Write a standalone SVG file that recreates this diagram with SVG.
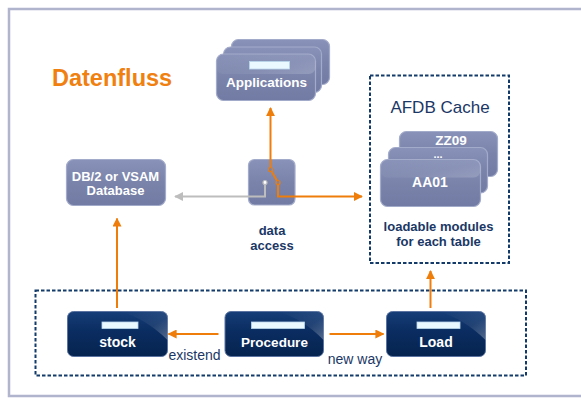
<svg xmlns="http://www.w3.org/2000/svg" width="581" height="398" viewBox="0 0 581 398">
<defs>
<linearGradient id="gCard" x1="0" y1="0" x2="0" y2="1">
<stop offset="0" stop-color="#8992b8"/>
<stop offset="0.5" stop-color="#7a84ab"/>
<stop offset="1" stop-color="#717ba3"/>
</linearGradient>
<linearGradient id="gDark" x1="0" y1="0" x2="0" y2="1">
<stop offset="0" stop-color="#163e78"/>
<stop offset="0.45" stop-color="#0a2c60"/>
<stop offset="1" stop-color="#06244f"/>
</linearGradient>
<linearGradient id="gGloss" x1="0" y1="0" x2="1" y2="1">
<stop offset="0" stop-color="#ffffff" stop-opacity="0"/>
<stop offset="0.6" stop-color="#ffffff" stop-opacity="0.08"/>
<stop offset="1" stop-color="#ffffff" stop-opacity="0.3"/>
</linearGradient>
<marker id="aO" viewBox="0 0 10 10" refX="9" refY="5" markerWidth="9" markerHeight="9" markerUnits="userSpaceOnUse" orient="auto">
<path d="M0,0 L10,5 L0,10 z" fill="#ee7d0a"/>
</marker>
<marker id="aG" viewBox="0 0 10 10" refX="9" refY="5" markerWidth="9" markerHeight="9" markerUnits="userSpaceOnUse" orient="auto">
<path d="M0,0 L10,5 L0,10 z" fill="#bdbdbd"/>
</marker>
</defs>
<style>
.card{fill:url(#gCard);stroke:#a3abca;stroke-width:1.2}
.dark{fill:url(#gDark);stroke:#5a73a0;stroke-width:1}
.gloss{fill:url(#gGloss)}
.bar{fill:#e9f9ff;stroke:#b9d6ea;stroke-width:0.8}
.wt{font-family:"Liberation Sans",Arial,sans-serif;font-weight:bold;fill:#ffffff;text-anchor:middle}
.nt{font-family:"Liberation Sans",Arial,sans-serif;fill:#1b3766;text-anchor:middle}
.dash{fill:none;stroke:#123a6a;stroke-width:2;stroke-dasharray:3.5 2}
.or{fill:none;stroke:#ee7d0a;stroke-width:2}
.gr{fill:none;stroke:#bdbdbd;stroke-width:2}
</style>
<rect width="581" height="398" fill="#ffffff"/>
<path d="M585,9 H9 V396 H585" fill="none" stroke="#b0b5cd" stroke-width="2.5"/>
<text x="52" y="86" font-family="'Liberation Sans',Arial,sans-serif" font-weight="bold" font-size="23.5" fill="#f08010">Datenfluss</text>

<g id="applications">
<rect class="card" x="231.5" y="39.5" width="98" height="45" rx="7"/>
<rect class="card" x="223.5" y="47" width="98" height="45.5" rx="7"/>
<rect class="card" x="216.5" y="54" width="99" height="46.5" rx="7"/>
<rect class="gloss" x="216.5" y="54" width="99" height="20" rx="7" opacity="0.6"/>
<rect class="bar" x="249.5" y="61.5" width="40" height="7.5"/>
<text class="wt" x="266.5" y="87" font-size="13.5">Applications</text>
</g>

<g id="database">
<rect class="card" x="66.5" y="159.5" width="99" height="46" rx="7"/>
<text class="wt" x="115.5" y="180.5" font-size="13">DB/2 or VSAM</text>
<text class="wt" x="115.5" y="195" font-size="13">Database</text>
</g>

<g id="data-access">
<rect class="card" x="248.5" y="159.5" width="46.5" height="45.5" rx="6"/>
<text class="nt" x="272" y="235" font-size="13" font-weight="bold">data</text>
<text class="nt" x="272" y="249.5" font-size="13" font-weight="bold">access</text>
</g>

<g id="afdb-cache">
<rect class="dash" x="370" y="75.5" width="139" height="187.5"/>
<text class="nt" x="440" y="112.5" font-size="17">AFDB Cache</text>
<rect class="card" x="399.5" y="131.5" width="98" height="45" rx="7"/>
<rect class="card" x="388.5" y="147.5" width="99" height="45.5" rx="7"/>
<rect class="card" x="380.5" y="159.5" width="100" height="47" rx="7"/>
<rect class="gloss" x="380.5" y="159.5" width="100" height="18" rx="7" opacity="0.6"/>
<text class="wt" x="451" y="144.5" font-size="13.5">ZZ09</text>
<text class="wt" x="438" y="158" font-size="11">...</text>
<text class="wt" x="430" y="187" font-size="14">AA01</text>
<text class="nt" x="438.5" y="231" font-size="13" font-weight="bold">loadable modules</text>
<text class="nt" x="438.5" y="245.5" font-size="13" font-weight="bold">for each table</text>
</g>

<g id="batch-frame">
<rect class="dash" x="35.5" y="290.5" width="490.5" height="85"/>
</g>

<g id="stock">
<rect class="dark" x="67.5" y="311.5" width="100" height="45" rx="6"/>
<path class="gloss" d="M120,311.5 H161.5 a6,6 0 0 1 6,6 V340 Q145,318 120,311.5 z"/>
<rect class="bar" x="102" y="322" width="36" height="6.5"/>
<text class="wt" x="117.5" y="346.5" font-size="14">stock</text>
</g>

<g id="procedure">
<rect class="dark" x="225" y="311.5" width="98.5" height="45" rx="6"/>
<path class="gloss" d="M277,311.5 H317.5 a6,6 0 0 1 6,6 V340 Q302,318 277,311.5 z"/>
<rect class="bar" x="251.5" y="322" width="53" height="6.5"/>
<text class="wt" x="274.5" y="346.5" font-size="13.5">Procedure</text>
</g>

<g id="load">
<rect class="dark" x="386.5" y="311.5" width="99" height="45" rx="6"/>
<path class="gloss" d="M438,311.5 H479.5 a6,6 0 0 1 6,6 V340 Q463,318 438,311.5 z"/>
<rect class="bar" x="417" y="322" width="43" height="6.5"/>
<text class="wt" x="436" y="346.5" font-size="14">Load</text>
</g>

<g id="connectors">
<path class="gr" d="M265,182.5 V196.5 H175" marker-end="url(#aG)"/>
<circle cx="265" cy="182.5" r="2" fill="#ffffff" stroke="#bdbdbd" stroke-width="1.2"/>
<path class="or" d="M270.5,169.5 V108" marker-end="url(#aO)"/>
<path class="or" d="M270.5,169.5 L278,182.5 V196.5 H362" marker-end="url(#aO)"/>
<circle cx="270.5" cy="169.5" r="2" fill="#7a84ab" stroke="#ee7d0a" stroke-width="1.2"/>
<circle cx="278" cy="182.5" r="2" fill="#7a84ab" stroke="#ee7d0a" stroke-width="1.2"/>
<path class="or" d="M117,308 V218.5" marker-end="url(#aO)"/>
<path class="or" d="M430.5,308 V271" marker-end="url(#aO)"/>
<path class="or" d="M218.5,334 H168.5" marker-end="url(#aO)"/>
<path class="or" d="M329.5,334 H383.5" marker-end="url(#aO)"/>
<text class="nt" x="194.5" y="360" font-size="14">existend</text>
<text class="nt" x="355" y="363.5" font-size="14">new way</text>
</g>
</svg>
